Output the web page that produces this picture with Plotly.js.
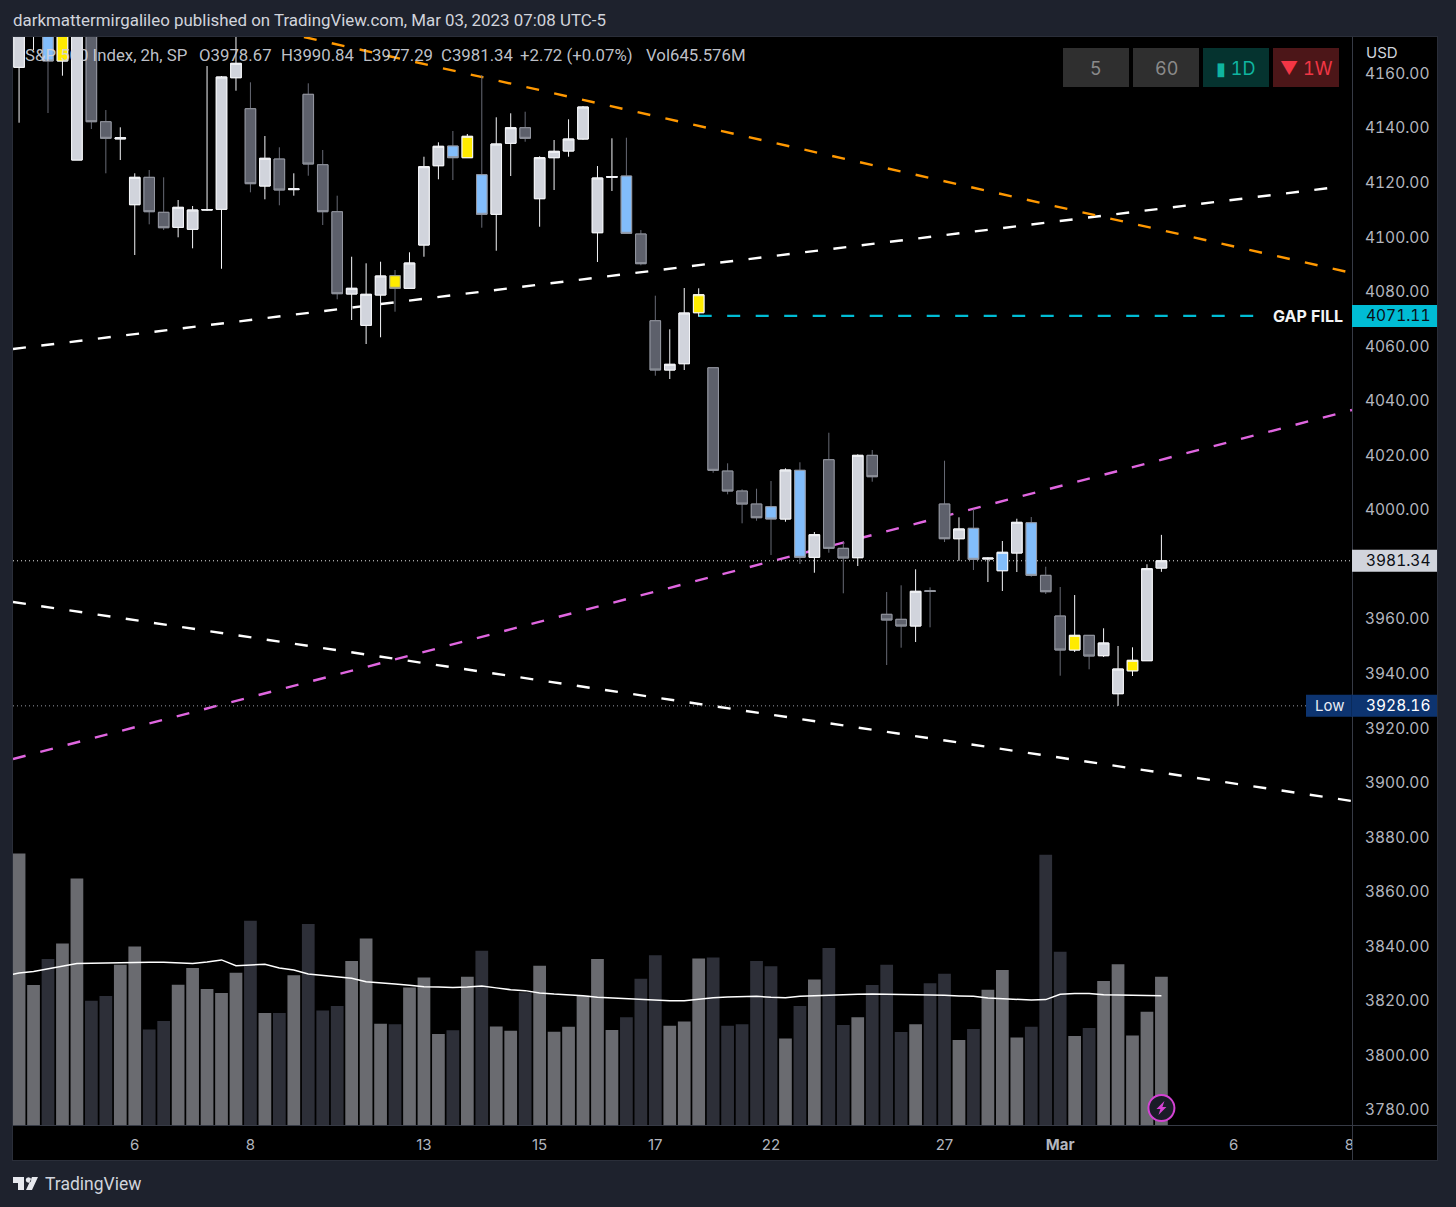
<!DOCTYPE html>
<html>
<head>
<meta charset="utf-8">
<script src="https://cdn.plot.ly/plotly-3.0.1.min.js"></script>
<style>html,body{margin:0;padding:0;background:#1e222d;overflow:hidden}#chart{width:1456px;height:1207px}
.ytick text{font-feature-settings:"tnum"}
.annotation-text{font-feature-settings:"tnum"}
</style>
</head>
<body>
<div id="chart"></div>
<script>
// ---- Data ----
const open = [4162.25,4176,4180,4164.56,4128.26,4195,4142.3,4136.0,4111.88,4121.92,4109.09,4103.59,4102.86,4109.9,4110.19,4158.43,4147.07,4118.73,4128.63,4117.4,4152.35,4126.54,4109.31,4079.14,4067.66,4078.77,4085.85,4081.23,4097.1,4126.17,4133.4,4129.11,4122.88,4108.36,4134.39,4140.1,4114.08,4129.11,4131.56,4135.96,4101.61,4121.9,4122.4,4101.14,4069.35,4051.28,4053.59,4072.28,4052.12,4014.24,4006.92,4002.15,4001.17,3996.65,4014.51,3982.61,4018.39,3985.91,3982.47,4020.0,3961.72,3959.89,3957.43,3970.4,4002.15,3989.43,3993.25,3982.0,3977.7,3984.19,3995.29,3976.01,3961.09,3948.63,3954.01,3946.54,3932.61,3941.0,3944.71,3978.67];
const high = [4182,4190,4182,4180,4197,4197,4146.59,4140.25,4123.39,4124.6,4121.92,4113.6,4111.4,4162.72,4159.06,4180,4156.75,4137.06,4132.92,4123.39,4156.38,4131.93,4115.18,4092.81,4090.39,4090.98,4087.94,4094.43,4129.47,4134.75,4138.9,4137.8,4159.43,4143.92,4145.39,4145.97,4129.62,4135.6,4143.19,4148.06,4126.06,4136.22,4136.44,4102.6,4078.52,4066.2,4081.34,4081.23,4052.12,4017.07,4007.54,4007.76,4010.58,4015.24,4017.44,3991.89,4028.29,3988.22,4020.37,4021.95,3969.89,3972.35,3978.21,3971.61,4018.03,3997.28,4000.21,3982.61,3988.59,3996.76,3997.39,3979.17,3971.73,3968.79,3954.01,3956.59,3950.1,3949.62,3980.05,3990.84];
const low = [4141.94,4168.59,4145.49,4159.17,4128.26,4139.63,4123.39,4128.26,4093.44,4104.69,4102.6,4099.93,4095.89,4109.57,4088.4,4153.67,4116.42,4113.86,4111.66,4115.18,4122.51,4104.44,4077.2,4069.61,4060.81,4063.27,4072.65,4081.23,4092.81,4121.19,4120.93,4129.11,4103.44,4095.01,4122.4,4134.97,4103.81,4117.27,4129.47,4135.7,4090.87,4116.9,4101.39,4089.66,4049.19,4047.98,4051.28,4070.82,4013.63,4005.71,3995.08,3996.03,3983.46,3995.66,3980.16,3976.97,3984.3,3969.42,3979.42,4010.33,3943.13,3949.48,3951.56,3956.95,3988.22,3981.37,3977.96,3973.56,3970.26,3977.22,3975.5,3969.16,3939.21,3947.9,3941.56,3946.07,3928.16,3939.1,3944.71,3977.29];
const close = [4178,4186,4164.56,4178,4195,4142.3,4136.22,4136.4,4121.92,4109.31,4103.44,4110.92,4109.93,4110.1,4158.69,4163.71,4119.58,4128.89,4117.27,4117.7,4126.8,4109.31,4079.25,4081.23,4079.03,4085.74,4081.23,4090.5,4125.81,4133.29,4129.11,4136.95,4108.36,4134.13,4140.1,4136.22,4129.11,4131.45,4135.96,4147.69,4121.67,4122.2,4101.39,4090.25,4051.28,4053.37,4072.17,4078.88,4014.51,4006.92,4002.15,3997.13,3996.65,4014.62,3982.61,3990.9,3985.91,3982.36,4020.0,4012.16,3959.63,3957.43,3970.15,3970.1,3989.43,3993.0,3981.88,3982.3,3984.45,3995.44,3976.01,3970.0,3948.63,3954.01,3946.43,3951.2,3941.66,3944.85,3978.44,3981.34];
const volume = [1184,611,724,792,1075,542,563,699,778,416,454,612,685,593,576,664,891,489,489,653,877,499,519,715,813,442,439,600,643,397,413,647,760,430,411,579,694,407,429,564,724,414,470,638,740,433,451,726,730,433,439,715,692,377,519,635,772,436,470,611,699,406,439,618,660,371,419,590,676,382,429,1179,756,388,423,628,701,390,494,647];
const volumeMA = [663,669,680,691,704,705,707,708,710,710,710,708,704,711,720,695,698,701,685,676,659,653,644,640,625,621,615,609,603,602,600,602,606,598,590,586,576,571,568,564,557,554,551,548,542,542,542,550,555,558,560,561,557,555,561,564,567,568,570,571,570,570,570,568,566,563,561,554,550,547,545,547,570,573,574,568,567,564,563,564];
const volumeMAPrevious = 650;
const blueBars = [2,30,32,42,52,54,66,68,70];
const yellowBars = [3,26,31,47,73,77];
const tickBars = [8,16,28,36,44,52,64,72,84,92];
const tickLabels = ['6','8','13','15','17','22','27','<b>Mar</b>','6','8'];
const priceTicks = [3780,3800,3820,3840,3860,3880,3900,3920,3940,3960,4000,4020,4040,4060,4080,4100,4120,4140,4160];
const orangeX = [19.7,92.18], orangeY = [4173.36,4086.84];
const whiteUpX = [-0.42,91.21], whiteUpY = [4058.98,4118.37];
const whiteDownX = [-0.42,92.18], whiteDownY = [3966.23,3893.27];
const pinkX = [-0.42,92.18], pinkY = [3908.67,4036.61];
const gapX = [47,85.96], gapPrice = 4071.11;
const lastPrice = 3981.34, lowPrice = 3928.16;
const legendItems = [['S&P 500 Index, 2h, SP',24],['O3978.67',198],['H3990.84',280],['L3977.29',362],['C3981.34',440],['+2.72 (+0.07%)',519],['Vol645.576M',645]];
const buttons = [['5',1063,'#2f2f2f','#8a8a8a'],['60',1133,'#2f2f2f','#8a8a8a'],['▮ 1D',1203,'#05332f','#0fb5a0'],['▼ 1W',1273,'#4c1618','#f23645']];

// ---- Helpers ----
const FONT = 'Inter, Roboto, sans-serif';
const PL = 13, PR = 1352, PT = 37, PB = 1125;
const px = v => (v - PL) / (PR - PL);
const py = v => (PB - v) / (PB - PT);
const idx = open.map((_, i) => i);
const yRange = [3774.5, 4173.36];
const volRange = [0, 4745];

const lineTrace = (x, y, color, width, dash) => ({type:'scatter', mode:'lines', x, y, yaxis:'y', hoverinfo:'skip',
  line:{color, width, dash}});

const traces = [
  lineTrace(pinkX, pinkY, '#e066e0', 2.4, '13px,15.2px'),
  lineTrace(whiteDownX, whiteDownY, '#ffffff', 2.4, '13px,15.5px'),
  lineTrace(whiteUpX, whiteUpY, '#ffffff', 2.4, '13px,15.5px'),
  lineTrace(orangeX, orangeY, '#ff9800', 2.4, '13px,15.5px'),
  lineTrace(gapX, [gapPrice, gapPrice], '#00bcd4', 2.4, '13px,15.5px'),
  lineTrace([-0.42, 92.18], [lastPrice, lastPrice], '#e8e8e8', 1, '1px,3px'),
  lineTrace([-0.42, 89.1], [lowPrice, lowPrice], '#9598a1', 1, '1px,3px'),
  {type:'bar', x:idx, y:volume, yaxis:'y2', width:0.88, hoverinfo:'skip',
   marker:{color:idx.map(i => close[i] >= open[i] ? '#6a6b70' : '#2d2f38'), line:{width:0}}},
  {type:'scatter', mode:'lines', x:[-1].concat(idx), y:[volumeMAPrevious].concat(volumeMA), yaxis:'y2', hoverinfo:'skip', line:{color:'#ffffff', width:1.5}}
];

// candle families: fill colour by paint, wick/border by direction
const classes = [
  {name:'plain', test:i => !blueBars.includes(i) && !yellowBars.includes(i)},
  {name:'blue', test:i => blueBars.includes(i), fill:'#82bdfb'},
  {name:'yellow', test:i => yellowBars.includes(i), fill:'#ffeb00'}
];
classes.forEach(cls => {
  [true, false].forEach(up => {
    const ids = idx.filter(i => cls.test(i) && (close[i] >= open[i]) === up);
    if (!ids.length) return;
    const fill = cls.fill || (up ? '#d1d4dc' : '#5d606b');
    const wick = up ? '#f4f5f8' : '#676a75';
    const border = up ? '#f4f5f8' : '#9598a1';
    const o = ids.map(i => open[i]), c = ids.map(i => close[i]);
    const mk = (h, l, col) => ({type:'candlestick', x:ids, open:o, close:c, high:h, low:l, yaxis:'y3',
      hoverinfo:'skip', whiskerwidth:0,
      increasing:{line:{color:col, width:1}, fillcolor:fill},
      decreasing:{line:{color:col, width:1}, fillcolor:fill}});
    traces.push(mk(ids.map(i => high[i]), ids.map(i => low[i]), wick));
    traces.push(mk(ids.map(i => Math.max(open[i], close[i])), ids.map(i => Math.min(open[i], close[i])), border));
  });
});

// ---- Chrome ----
const rectPx = (x0, x1, y0, y1, fill, layer) => ({type:'rect', xref:'paper', yref:'paper',
  x0:px(x0), x1:px(x1), y0:py(y1), y1:py(y0), fillcolor:fill, line:{width:0}, layer:layer||'above'});
const axisLabel = (x0, x1, price, fill) => ({type:'rect', xref:'paper', yref:'y', ysizemode:'pixel', yanchor:price,
  x0:px(x0), x1:px(x1), y0:-11, y1:11, fillcolor:fill, line:{width:0}, layer:'above'});
const lineBorder = '#363a45';

const shapes = [
  rectPx(13, 1437, 1125, 1160, '#000000', 'below'),
  rectPx(1352, 1437, 37, 1160, '#000000', 'below'),
  rectPx(1352.5, 1437, 1126, 1160, '#000000'),      // hides the right half of the last tick label
  rectPx(13, 1437, 1125, 1126, lineBorder),
  rectPx(1352, 1353, 37, 1160, lineBorder),
  rectPx(1437, 1438, 36, 1161, '#2a2e39'),
  rectPx(12, 1438, 1160, 1161, '#2a2e39'),
  rectPx(12, 13, 36, 1161, '#2a2e39'),
  rectPx(12, 1438, 36, 37, '#2a2e39'),
  axisLabel(1352, 1437, gapPrice, '#00bcd4'),
  axisLabel(1352, 1437, lastPrice, '#d1d4dc'),
  axisLabel(1306, 1437, lowPrice, '#0d3470'),
  {type:'rect', xref:'paper', yref:'y', ysizemode:'pixel', yanchor:lowPrice, x0:px(1351), x1:px(1352), y0:-11, y1:11,
   fillcolor:'#0a2a5a', line:{width:0}, layer:'above'},
  // lightning badge
  {type:'circle', xref:'x', yref:'y', xsizemode:'pixel', ysizemode:'pixel', xanchor:79, yanchor:3780.7,
   x0:-13, x1:13, y0:-13, y1:13, fillcolor:'#1a1c28', line:{color:'#d442d4', width:2}, layer:'above'},
  {type:'path', xref:'x', yref:'y', xsizemode:'pixel', ysizemode:'pixel', xanchor:79, yanchor:3780.7,
   path:'M 3,7 L -5,-1 L -1,-1 L -3,-7 L 5,1 L 1,1 Z', fillcolor:'#d442d4', line:{width:0}, layer:'above'},
  // TradingView logo
  {type:'path', xref:'paper', yref:'paper', xsizemode:'pixel', ysizemode:'pixel', xanchor:px(13), yanchor:py(1177),
   path:'M 0,0 L 11,0 L 11,-13 L 5,-13 L 5,-6 L 0,-6 Z M 13,-13 L 19,-13 L 25,0 L 19,0 Z M 18.3,-3 L 17.5,-1 L 15.5,-0.2 L 13.5,-1 L 12.7,-3 L 13.5,-5 L 15.5,-5.8 L 17.5,-5 Z', fillcolor:'#e6e8ee', line:{width:0}, layer:'above'}
];
buttons.forEach(b => shapes.push(rectPx(b[1], b[1] + 66, 48, 87, b[2])));

const annotation = (text, x, y, size, color, extra) => Object.assign({xref:'paper', yref:'paper', x:px(x), y:py(y),
  text, showarrow:false, xanchor:'left', yanchor:'middle', borderpad:0,
  font:{family:FONT, size, color}}, extra||{});
const onPrice = (text, x, price, size, color, extra) => Object.assign(annotation(text, x, 0, size, color, extra), {yref:'y', y:price});

const annotations = [
  annotation('USD', 1365, 52, 15, '#d1d4dc'),
  annotation('TradingView', 44, 1184, 17.5, '#d1d4dc', {font:{family:'Roboto, sans-serif', size:17.5, color:'#d1d4dc'}}),
  onPrice('<b>GAP FILL</b>', 1272, gapPrice, 16, '#f2f3f5'),
  onPrice('4071.11', 1365, gapPrice, 15.5, '#0b0e14'),
  onPrice('3981.34', 1365, lastPrice, 15.5, '#0b0e14'),
  onPrice('3928.16', 1365, lowPrice, 15.5, '#ffffff'),
  onPrice('Low', 1314, lowPrice, 15, '#e8ecf4')
];
legendItems.forEach(it => annotations.push(annotation(it[0], it[1], 55.5, 16.8, 'rgba(209,212,220,0.92)',
  {font:{family:'Roboto, sans-serif', size:16.8, color:'rgba(209,212,220,0.92)'}})));
buttons.forEach(b => annotations.push(annotation(b[0], b[1] + 33, 68.5, 18, b[3], {xanchor:'center'})));

const layout = {
  width:1456, height:1207, autosize:false,
  paper_bgcolor:'#1e222d', plot_bgcolor:'#000000',
  margin:{l:PL, r:1456 - PR, t:PT, b:1207 - PB, pad:0},
  showlegend:false, boxmode:'overlay', boxgap:0.27, boxgroupgap:0, barmode:'overlay',
  title:{text:'darkmattermirgalileo published on TradingView.com, Mar 03, 2023 07:08 UTC-5',
    x:0, xref:'paper', xanchor:'left', y:1 - 20 / 1207, yanchor:'middle', pad:{l:0,r:0,t:0,b:0},
    font:{family:'Roboto, sans-serif', size:16.9, color:'#d1d4dc'}},
  xaxis:{range:[-0.42, 92.18], rangeslider:{visible:false}, showgrid:false, zeroline:false, showline:false,
    tickmode:'array', tickvals:tickBars, ticktext:tickLabels, ticks:'', ticklabelstandoff:9,
    tickfont:{family:FONT, size:15, color:'#b2b5be'}, fixedrange:true},
  yaxis:{range:yRange, side:'right', showgrid:false, zeroline:false, showline:false,
    tickmode:'array', tickvals:priceTicks, ticktext:priceTicks.map(v => v.toFixed(2)), ticks:'', ticklabelstandoff:12,
    tickfont:{family:FONT, size:15.5, color:'#b2b5be'}, fixedrange:true},
  yaxis2:{range:volRange, overlaying:'y', side:'left', visible:false, fixedrange:true},
  yaxis3:{range:yRange, overlaying:'y', side:'left', visible:false, fixedrange:true},
  shapes, annotations
};
Plotly.newPlot('chart', traces, layout, {displayModeBar:false, staticPlot:true});
</script>
</body>
</html>
